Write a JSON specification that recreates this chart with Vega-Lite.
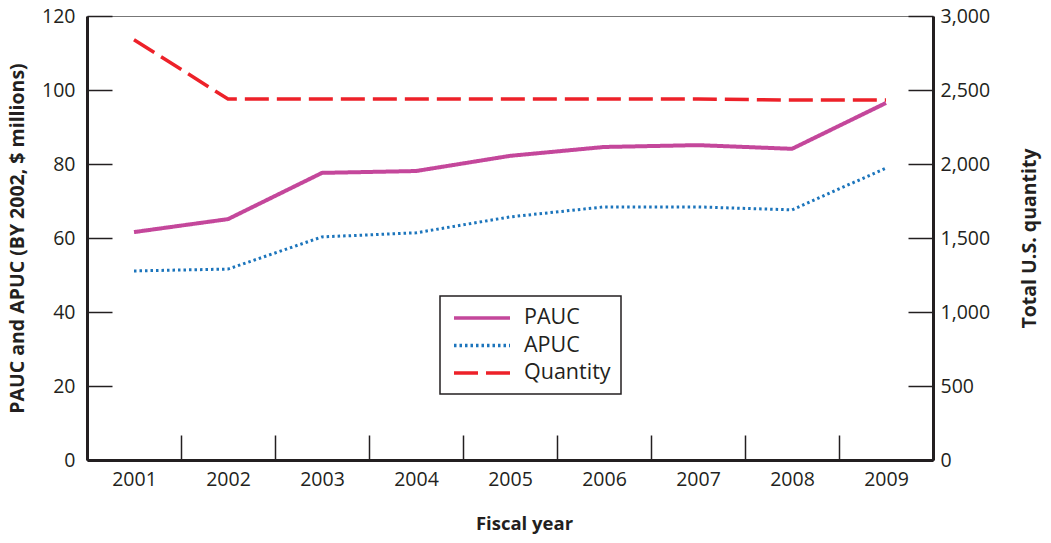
{
  "$schema": "https://vega.github.io/schema/vega-lite/v6.json",
  "autosize": {"type": "none"},
  "padding": {"left": 87, "top": 16, "right": 118, "bottom": 83},
  "width": 846,
  "height": 444,
  "background": "white",
  "config": {
    "font": "Open Sans",
    "view": {"stroke": "#777", "strokeWidth": 1},
    "axis": {
      "grid": false,
      "labelFont": "Open Sans",
      "labelFontSize": 19.5,
      "labelColor": "#231f20",
      "titleFont": "Open Sans",
      "titleFontSize": 19.5,
      "titleFontWeight": "bold",
      "titleColor": "#231f20",
      "domainColor": "#231f20",
      "domainWidth": 3,
      "tickColor": "#231f20",
      "tickWidth": 1.5,
      "tickSize": -25
    },
    "legend": {
      "title": null,
      "orient": "none",
      "legendX": 353,
      "legendY": 280,
      "fillColor": "white",
      "strokeColor": "#231f20",
      "strokeWidth": 1.5,
      "padding": 10,
      "symbolType": "M-0.8,0H4.8",
      "symbolSize": 400,
      "symbolStrokeWidth": 3.5,
      "labelFont": "Open Sans",
      "labelFontSize": 21.5,
      "labelColor": "#231f20",
      "labelOffset": 50,
      "rowPadding": 4.5
    }
  },
  "data": {
    "values": [
      {"year": "2001", "series": "PAUC", "value": 61.6},
      {"year": "2002", "series": "PAUC", "value": 65.1},
      {"year": "2003", "series": "PAUC", "value": 77.6},
      {"year": "2004", "series": "PAUC", "value": 78.1},
      {"year": "2005", "series": "PAUC", "value": 82.2},
      {"year": "2006", "series": "PAUC", "value": 84.6},
      {"year": "2007", "series": "PAUC", "value": 85.1},
      {"year": "2008", "series": "PAUC", "value": 84.1},
      {"year": "2009", "series": "PAUC", "value": 96.5},
      {"year": "2001", "series": "APUC", "value": 51.1},
      {"year": "2002", "series": "APUC", "value": 51.6},
      {"year": "2003", "series": "APUC", "value": 60.3},
      {"year": "2004", "series": "APUC", "value": 61.4},
      {"year": "2005", "series": "APUC", "value": 65.7},
      {"year": "2006", "series": "APUC", "value": 68.4},
      {"year": "2007", "series": "APUC", "value": 68.4},
      {"year": "2008", "series": "APUC", "value": 67.6},
      {"year": "2009", "series": "APUC", "value": 78.9},
      {"year": "2001", "series": "Quantity", "value": 2840},
      {"year": "2002", "series": "Quantity", "value": 2439},
      {"year": "2003", "series": "Quantity", "value": 2439},
      {"year": "2004", "series": "Quantity", "value": 2439},
      {"year": "2005", "series": "Quantity", "value": 2439},
      {"year": "2006", "series": "Quantity", "value": 2439},
      {"year": "2007", "series": "Quantity", "value": 2439},
      {"year": "2008", "series": "Quantity", "value": 2432},
      {"year": "2009", "series": "Quantity", "value": 2432}
    ]
  },
  "encoding": {
    "x": {
      "field": "year",
      "type": "ordinal",
      "bandPosition": 0.5,
      "scale": {"type": "band", "paddingInner": 0, "paddingOuter": 0},
      "axis": {
        "title": "Fiscal year",
        "titleFontSize": 18.5,
        "labelAngle": 0,
        "tickBand": "extent",
        "labelPadding": 35,
        "titlePadding": 26,
        "titleX": 437
      }
    },
    "color": {
      "field": "series",
      "type": "nominal",
      "scale": {"domain": ["PAUC", "APUC", "Quantity"], "range": ["#c4479b", "#1c75bc", "#ed2129"]}
    },
    "strokeDash": {
      "field": "series",
      "type": "nominal",
      "scale": {"domain": ["PAUC", "APUC", "Quantity"], "range": [[1, 0], [2.5, 3], [24, 8]]}
    }
  },
  "layer": [
    {
      "layer": [
        {
          "transform": [{"filter": "datum.series === 'PAUC'"}],
          "mark": {"type": "line", "strokeWidth": 4},
          "encoding": {
            "y": {
              "field": "value",
              "type": "quantitative",
              "scale": {"domain": [0, 120]},
              "axis": {
                "title": "PAUC and APUC (BY 2002, $ millions)",
                "values": [0, 20, 40, 60, 80, 100, 120],
                "labelPadding": 37,
                "titlePadding": 14
              }
            }
          }
        },
        {
          "transform": [{"filter": "datum.series === 'APUC'"}],
          "mark": {"type": "line", "strokeWidth": 3},
          "encoding": {
            "y": {"field": "value", "type": "quantitative", "scale": {"domain": [0, 120]}}
          }
        }
      ]
    },
    {
      "transform": [{"filter": "datum.series === 'Quantity'"}],
      "mark": {"type": "line", "strokeWidth": 3.5},
      "encoding": {
        "y": {
          "field": "value",
          "type": "quantitative",
          "scale": {"domain": [0, 3000]},
          "axis": {
            "orient": "right",
            "title": "Total U.S. quantity",
            "titleAngle": 270,
            "values": [0, 500, 1000, 1500, 2000, 2500, 3000],
            "format": ",d",
            "labelPadding": 32,
            "titlePadding": 50
          }
        }
      }
    }
  ],
  "resolve": {"scale": {"y": "independent"}}
}
